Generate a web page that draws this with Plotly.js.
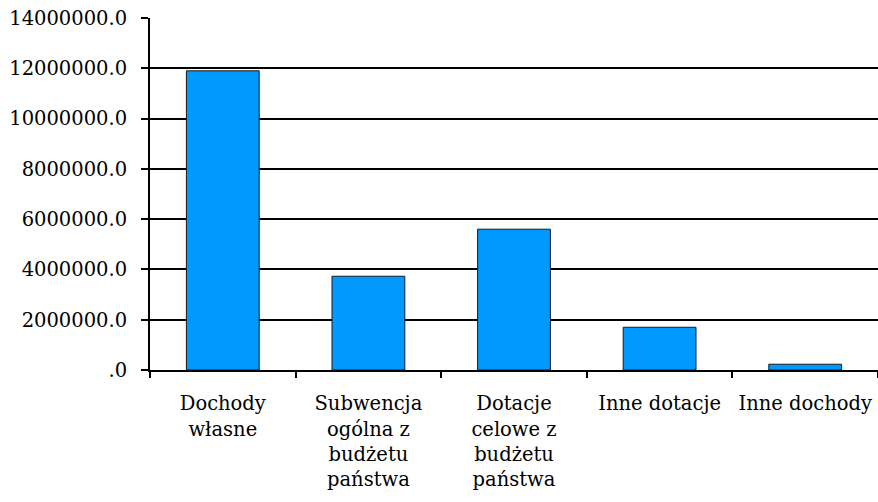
<!DOCTYPE html>
<html>
<head>
<meta charset="utf-8">
<script src="https://cdn.plot.ly/plotly-3.0.1.min.js"></script>
<style>html,body{margin:0;padding:0;background:#fff;}#chart{width:878px;height:502px;}</style>
</head>
<body>
<div id="chart"></div>
<script>
const categories = ["Dochody<br>własne", "Subwencja<br>ogólna z<br>budżetu<br>państwa", "Dotacje<br>celowe z<br>budżetu<br>państwa", "Inne dotacje", "Inne dochody"];
const values = [11900000, 3730000, 5600000, 1700000, 230000];
const yTickVals = [0, 2000000, 4000000, 6000000, 8000000, 10000000, 12000000, 14000000];
const yTickText = [".0", "2000000.0", "4000000.0", "6000000.0", "8000000.0", "10000000.0", "12000000.0", "14000000.0"];

const FONT = "DejaVu Serif";

const trace = {
  type: "bar",
  x: categories,
  y: values,
  marker: {color: "#0099FF", line: {color: "#1a1a1a", width: 1}},
  hoverinfo: "none"
};

const layout = {
  width: 878, height: 502,
  margin: {l: 150, r: 0, t: 18, b: 132},
  paper_bgcolor: "#fff", plot_bgcolor: "#fff",
  showlegend: false,
  bargap: 0.5,
  font: {family: FONT, size: 19.5, color: "#000"},
  xaxis: {
    type: "category",
    range: [-0.5, 4.5],
    showline: true, linecolor: "#000", linewidth: 2,
    ticks: "outside", tickson: "boundaries", ticklen: 6, tickwidth: 2, tickcolor: "#000",
    showgrid: false, zeroline: false,
    tickangle: 0,
    ticklabelstandoff: 15,
    tickfont: {family: FONT, size: 19.5, color: "#000"}
  },
  yaxis: {
    range: [0, 14000000],
    tickvals: yTickVals, ticktext: yTickText,
    showline: true, linecolor: "#000", linewidth: 2,
    ticks: "outside", ticklen: 7, tickwidth: 2, tickcolor: "#000",
    showgrid: true, gridcolor: "#000", gridwidth: 2,
    zeroline: false,
    ticklabelstandoff: 10,
    tickfont: {family: FONT, size: 19.5, color: "#000"}
  }
};

Plotly.newPlot("chart", [trace], layout, {displayModeBar: false, staticPlot: true});
</script>
</body>
</html>
